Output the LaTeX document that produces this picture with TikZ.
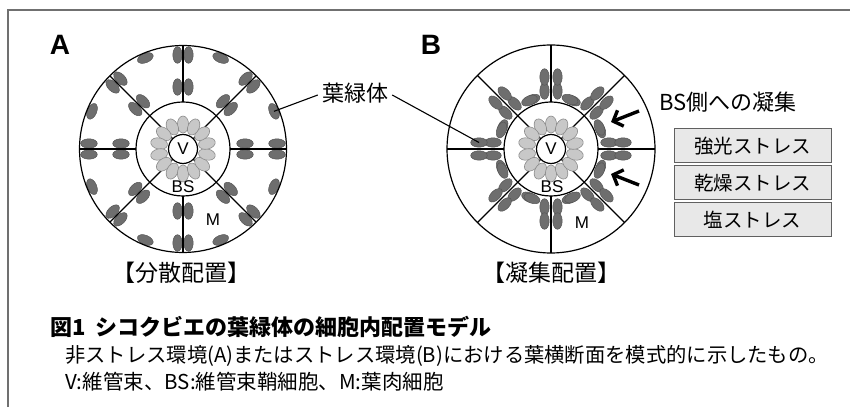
\documentclass[tikz,border=0pt]{standalone}
\usepackage{fontspec}
\setmainfont{Liberation Sans}
\newfontfamily\jp{Noto Sans CJK JP}
\usetikzlibrary{arrows.meta,calc}

\definecolor{chlDark}{HTML}{6E6E6E}
\definecolor{chlDarkEdge}{HTML}{555555}
\definecolor{chlLight}{HTML}{C8C8C8}
\definecolor{chlLightEdge}{HTML}{8C8C8C}
\definecolor{boxFill}{HTML}{E8E8E8}
\definecolor{boxEdge}{HTML}{606060}
\definecolor{frameGray}{HTML}{707070}

\tikzset{
  wall/.style={line width=1.2pt, draw=black},
  dkchl/.style={fill=chlDark, draw=chlDarkEdge, line width=0.5pt},
  ltchl/.style={fill=chlLight, draw=chlLightEdge, line width=0.6pt},
  tag/.style={font=\fontsize{17}{17}\selectfont, inner sep=0pt},
  panel/.style={font=\bfseries\fontsize{28}{28}\selectfont, inner sep=0pt},
  jlabel/.style={font=\jp\fontsize{22}{22}\selectfont, inner sep=0pt},
  jtitle/.style={font=\jp\fontsize{23}{23}\selectfont, inner sep=0pt},
  jcap/.style={font=\jp\fontsize{20.3}{20.3}\selectfont, inner sep=0pt, anchor=west},
  stressbox/.style={draw=boxEdge, fill=boxFill, line width=1pt, minimum width=157pt,
    minimum height=34pt, inner sep=0pt, font=\jp\fontsize{19.5}{19.5}\selectfont},
  push/.style={line width=3.4pt, -{Straight Barb[length=8pt,width=17pt]}},
  leader/.style={line width=1.1pt},
  vcircle/.style={circle, draw, fill=white, line width=1.2pt, minimum size=29pt, inner sep=0pt,
    font=\fontsize{17}{17}\selectfont},
}

\begin{document}
\begin{tikzpicture}[x=1pt,y=1pt]
\useasboundingbox (0,0) rectangle (850,407);

% frame edges
\draw[line width=1.5pt, draw=frameGray] (8,0) -- (8,397) -- (850,397);

\coordinate (ca) at (183,258);
\coordinate (cb) at (551,258);

% ---------- A: dispersed chloroplasts ----------
\foreach \a in {0,45,...,315}{
  \begin{scope}[shift={(ca)},rotate=\a]
    \foreach \r in {62,94}{
      \path[dkchl] (\r,5.5) ellipse [x radius=8.3pt,y radius=4.7pt];
      \path[dkchl] (\r,-5.5) ellipse [x radius=8.3pt,y radius=4.7pt];
    }
  \end{scope}
  \begin{scope}[shift={(ca)},rotate={\a+22.5}]
    \path[dkchl] (98.5,0) ellipse [x radius=4.7pt,y radius=8.3pt];
  \end{scope}
}
\foreach \a in {0,90,180,270}
  \draw[wall] ($(ca)+(\a:47)$) -- ($(ca)+(\a:103.5)$);
\foreach \a in {45,135,225,315}
  \draw[wall] (ca) -- ($(ca)+(\a:103.5)$);
\foreach \k in {0,...,13}{
  \begin{scope}[shift={(ca)},rotate={90+\k*360/14}]
    \path[ltchl] (24.5,0) ellipse [x radius=8.5pt,y radius=5.6pt];
  \end{scope}
}
\draw[wall] (ca) circle [radius=47];
\draw[wall] (ca) circle [radius=103.5];
\node[vcircle] (va) at (ca) {V};
\node[tag] (bsa) at (183,220) {BS};
\node[tag] (ma) at (213,187) {M};

% ---------- B: chloroplasts gathered at the bundle sheath ----------
\foreach \a in {0,45,...,315}{
  \begin{scope}[shift={(cb)},rotate=\a]
    \foreach \s in {-21,21}{
      \begin{scope}[rotate=\s]
        \path[dkchl] (53,0) ellipse [x radius=4.7pt,y radius=8.3pt];
      \end{scope}
    }
    \foreach \r in {58,72}{
      \path[dkchl] (\r,6.5) ellipse [x radius=8.3pt,y radius=4.7pt];
      \path[dkchl] (\r,-6.5) ellipse [x radius=8.3pt,y radius=4.7pt];
    }
  \end{scope}
}
\foreach \a in {0,90,180,270}
  \draw[wall] ($(cb)+(\a:47)$) -- ($(cb)+(\a:104)$);
\foreach \a in {45,135,225,315}
  \draw[wall] (cb) -- ($(cb)+(\a:104)$);
\foreach \k in {0,...,13}{
  \begin{scope}[shift={(cb)},rotate={90+\k*360/14}]
    \path[ltchl] (24.5,0) ellipse [x radius=8.5pt,y radius=5.6pt];
  \end{scope}
}
\draw[wall] (cb) circle [radius=47];
\draw[wall] (cb) circle [radius=104];
\node[vcircle] (vb) at (cb) {V};
\node[tag] (bsb) at (552,220) {BS};
\node[tag] (mb) at (582,184) {M};

% panel letters
\node[panel] (pa) at (60,362) {A};
\node[panel] (pb) at (431,362) {B};

% chloroplast label with leaders
\coordinate (chlA) at ($(ca)+(22.5:98.5)$);
\coordinate (chlB) at ($(cb)+(-72,6.5)$);
\node[jlabel] (chl) at (355,314) {葉緑体};
\draw[leader] (chl.west) ++(-4,-2) -- (chlA);
\draw[leader] (chl.east) ++(4,-2) -- (chlB);

% aggregation arrows and stress boxes
\node[jlabel] (agg) at (728,305) {BS側への凝集};
\coordinate (t1) at (639,296);
\coordinate (h1) at (611,285);
\coordinate (t2) at (639,222);
\coordinate (h2) at (611,233);
\draw[push] (t1) -- (h1);
\draw[push] (t2) -- (h2);
\node[stressbox] (s1) at (752.5,261) {強光ストレス};
\node[stressbox] (s2) at (752.5,224) {乾燥ストレス};
\node[stressbox] (s3) at (752.5,187) {塩ストレス};

% panel titles
\node[jtitle] (ta) at (181,134) {【分散配置】};
\node[jtitle] (tb) at (551,134) {【凝集配置】};

% caption
\node[jcap, font=\jp\bfseries\fontsize{22}{22}\selectfont] (cap1) at (50,80) {図1\hspace{0.45em}シコクビエの葉緑体の細胞内配置モデル};
\node[jcap] (cap2) at (65,51) {非ストレス環境(A)またはストレス環境(B)における葉横断面を模式的に示したもの。};
\node[jcap, font=\jp\fontsize{20.5}{20.5}\selectfont] (cap3) at (65,25) {V:維管束、BS:維管束鞘細胞、M:葉肉細胞};
\end{tikzpicture}
\end{document}
